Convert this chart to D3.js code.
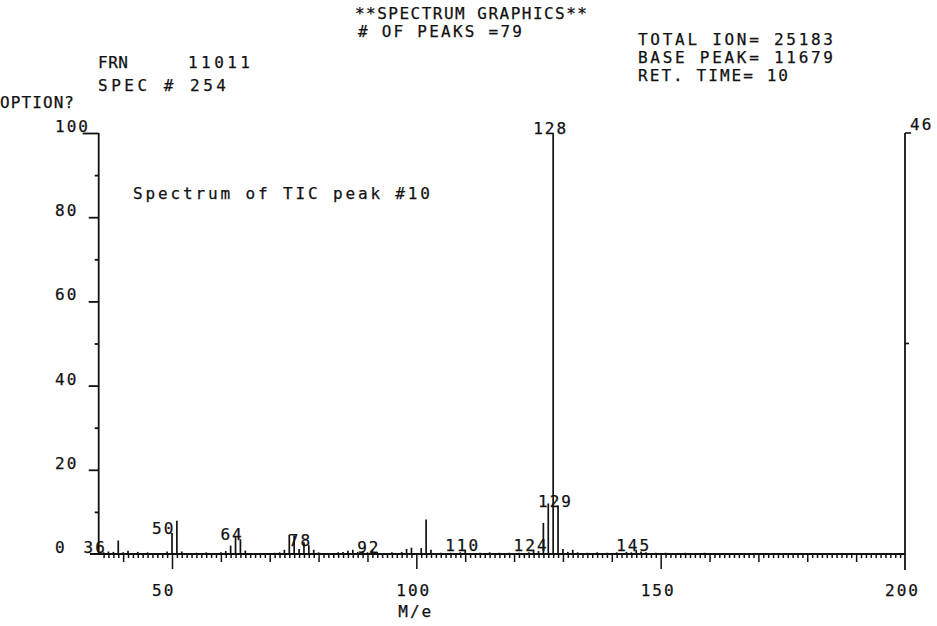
<!DOCTYPE html>
<html>
<head>
<meta charset="utf-8">
<script src="https://cdn.jsdelivr.net/npm/d3@7/dist/d3.min.js"></script>
<style>
  html, body { margin: 0; padding: 0; background: #fff; }
  svg { display: block; }
  text { font-family: "DejaVu Sans Mono", "Liberation Mono", monospace; font-size: 16px; letter-spacing: 2px; fill: #111; stroke: #111; stroke-width: 0.25px; }
</style>
</head>
<body>
<script>
// Mass spectrum: m/e of each peak and its relative intensity (% of base peak)
const masses = [36, 37, 38, 39, 40, 41, 43, 45, 49, 50,
                51, 52, 55, 57, 60, 61, 62, 63, 64, 65,
                71, 72, 73, 74, 75, 76, 77, 78, 79, 80,
                84, 85, 86, 87, 88, 89, 90, 91, 92, 95,
                97, 98, 99, 101, 102, 103, 105, 107, 109, 110,
                113, 115, 117, 119, 121, 123, 124, 125, 126, 127,
                128, 129, 130, 131, 132, 133, 135, 137, 139, 141,
                143, 144, 145, 146, 147, 149, 151, 155, 159];
const intensities = [0.4, 0.6, 0.5, 3.2, 0.4, 0.8, 0.5, 0.4, 0.6, 5.0,
                     7.9, 0.6, 0.3, 0.4, 0.4, 0.7, 2.0, 4.0, 3.5, 0.8,
                     0.3, 0.4, 1.0, 4.6, 4.4, 1.2, 2.8, 2.1, 1.0, 0.4,
                     0.4, 0.5, 0.8, 1.0, 0.5, 0.7, 0.4, 1.0, 0.5, 0.4,
                     0.5, 1.2, 1.5, 1.4, 8.2, 1.0, 0.3, 0.3, 0.4, 1.0,
                     0.3, 0.4, 0.3, 0.3, 0.3, 0.4, 1.0, 0.7, 7.4, 12.0,
                     100, 11.5, 1.2, 0.5, 1.0, 0.4, 0.3, 0.4, 0.3, 0.4,
                     0.5, 0.4, 1.0, 0.6, 0.4, 0.3, 0.3, 0.3, 0.3];
// Peaks that carry an m/e label
const labelledMasses = [36, 50, 64, 78, 92, 110, 124, 128, 129, 145];
// Axis ticks
const xTickLabels = [50, 100, 150, 200];
const yTickLabels = [0, 20, 40, 60, 80, 100];

const W = 937, H = 626;
const svg = d3.select("body").append("svg").attr("width", W).attr("height", H);

const x = d3.scaleLinear().domain([35, 200]).range([98.7, 905]);
const y = d3.scaleLinear().domain([0, 100]).range([554, 133]);

// Header block: text, left x, baseline y, printed width
const header = [
  ["**SPECTRUM GRAPHICS**", 355, 19, 232],
  ["# OF PEAKS =79", 358, 37, 164],
  ["TOTAL ION= 25183", 638, 45, 195],
  ["BASE PEAK= 11679", 638, 63, 195],
  ["RET. TIME= 10", 638, 81, 150],
  ["FRN", 98, 68, 30],
  ["11011", 188, 68, 62],
  ["SPEC # 254", 98, 91, 128],
  ["OPTION?", 0, 108, 74],
  ["Spectrum of TIC peak #10", 133, 199, 297]
];
svg.selectAll("text.hdr").data(header).join("text").attr("class", "hdr")
  .attr("x", d => d[1]).attr("y", d => d[2])
  .attr("textLength", d => d[3]).attr("lengthAdjust", "spacing")
  .style("letter-spacing", "0px")
  .text(d => d[0]);

// Frame lines
const ink = "#111";
// y axis line
svg.append("line").attr("x1", x(35)).attr("x2", x(35)).attr("y1", y(100)).attr("y2", y(0))
  .attr("stroke", ink).attr("stroke-width", 1.8);
// right border with its small cap and mid tick
svg.append("line").attr("x1", x(200)).attr("x2", x(200)).attr("y1", y(100)).attr("y2", 570)
  .attr("stroke", ink).attr("stroke-width", 1.8);
svg.append("line").attr("x1", x(200)).attr("x2", x(200) + 6).attr("y1", y(100)).attr("y2", y(100))
  .attr("stroke", ink).attr("stroke-width", 1.6);
svg.append("line").attr("x1", x(200)).attr("x2", x(200) + 4).attr("y1", y(50)).attr("y2", y(50))
  .attr("stroke", ink).attr("stroke-width", 1.6);
svg.append("text").attr("x", x(200) + 5).attr("y", 130).text("46");

// y ticks (pointing left) through d3 axes
function yTicks(values, size) {
  const g = svg.append("g").attr("transform", `translate(${x(35)},0)`)
    .call(d3.axisLeft(y).tickValues(values).tickSize(size).tickFormat(""));
  g.select(".domain").remove();
  g.selectAll("line").attr("stroke", ink).attr("stroke-width", 1.8);
}
yTicks([10, 30, 50, 70, 90], 4);
yTicks([20, 40, 60, 80], 10);
yTicks([100], 16);
svg.selectAll("text.ylab").data(yTickLabels).join("text").attr("class", "ylab")
  .attr("x", 55).attr("y", d => y(d) - 1).text(d => d);

// x ticks (pointing down)
function xTicks(values, size) {
  const g = svg.append("g").attr("transform", `translate(0,${y(0)})`)
    .call(d3.axisBottom(x).tickValues(values).tickSize(size).tickFormat(""));
  g.select(".domain").remove();
  g.selectAll("line").attr("stroke", ink).attr("stroke-width", 1.5);
}
const allInts = d3.range(36, 200);
xTicks(allInts.filter(m => m % 10 !== 0), 4);
xTicks(allInts.filter(m => m % 10 === 0 && m % 50 !== 0), 8);
xTicks([50, 100, 150], 15);
// baseline
svg.append("line").attr("x1", 90).attr("x2", x(200)).attr("y1", y(0)).attr("y2", y(0))
  .attr("stroke", ink).attr("stroke-width", 2.2);

svg.selectAll("text.xlab").data(xTickLabels).join("text").attr("class", "xlab")
  .attr("x", d => x(d) - 20).attr("y", 596).text(d => d);
svg.append("text").attr("x", x(100) - 18).attr("y", 617).text("M/e");

// Peaks
const peaks = masses.map((m, i) => ({ m, v: intensities[i] }));
svg.append("g").selectAll("line").data(peaks).join("line")
  .attr("x1", d => x(d.m)).attr("x2", d => x(d.m))
  .attr("y1", y(0)).attr("y2", d => y(d.v))
  .attr("stroke", ink).attr("stroke-width", 1.7);

// Peak labels sit on top of their peak, starting two characters to the left
const labelData = peaks.filter(p => labelledMasses.includes(p.m));
svg.selectAll("text.plab").data(labelData).join("text").attr("class", "plab")
  .attr("x", d => x(d.m) - 20)
  .attr("y", d => Math.min(y(d.v) + 1, y(0) - 1))
  .text(d => d.m);
</script>
</body>
</html>
